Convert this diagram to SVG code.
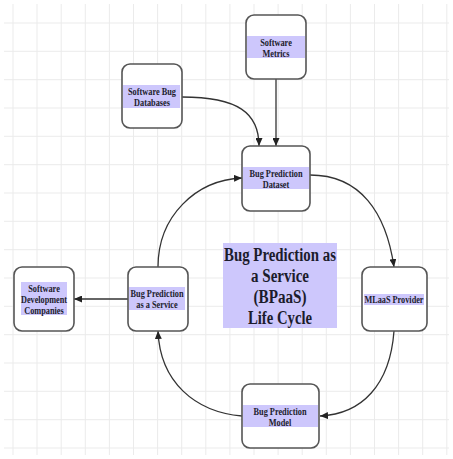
<svg xmlns="http://www.w3.org/2000/svg" width="453" height="459" viewBox="0 0 453 459">
<defs>
<style>
.grid line{stroke:#ebebeb;stroke-width:1}
.box{fill:#fff;stroke:#555;stroke-width:1.6}
.hl{fill:#cdc7fc}
.lbl{font-family:"Liberation Serif","Times New Roman",serif;font-weight:bold;font-size:10.5px;fill:#1c1c2c;text-anchor:middle}
.title{font-family:"Liberation Serif","Times New Roman",serif;font-weight:bold;font-size:18px;fill:#1c1c2c;text-anchor:middle}
.con{fill:none;stroke:#333;stroke-width:1.3}
</style>
<marker id="arr" viewBox="0 0 8 7" refX="8" refY="3.5" markerWidth="8" markerHeight="7" markerUnits="userSpaceOnUse" orient="auto">
<path d="M0,0 L8,3.5 L0,7 z" fill="#222"/>
</marker>
</defs>
<rect width="453" height="459" fill="#fff"/>
<g class="grid">
<line x1="13" y1="4" x2="13" y2="455"/><line x1="37" y1="4" x2="37" y2="455"/><line x1="61.2" y1="4" x2="61.2" y2="455"/><line x1="85.3" y1="4" x2="85.3" y2="455"/><line x1="109.4" y1="4" x2="109.4" y2="455"/><line x1="133.5" y1="4" x2="133.5" y2="455"/><line x1="157.6" y1="4" x2="157.6" y2="455"/><line x1="181.7" y1="4" x2="181.7" y2="455"/><line x1="205.8" y1="4" x2="205.8" y2="455"/><line x1="229.9" y1="4" x2="229.9" y2="455"/><line x1="254" y1="4" x2="254" y2="455"/><line x1="278.1" y1="4" x2="278.1" y2="455"/><line x1="302.2" y1="4" x2="302.2" y2="455"/><line x1="326.3" y1="4" x2="326.3" y2="455"/><line x1="350.4" y1="4" x2="350.4" y2="455"/><line x1="374.5" y1="4" x2="374.5" y2="455"/><line x1="398.6" y1="4" x2="398.6" y2="455"/><line x1="422.7" y1="4" x2="422.7" y2="455"/><line x1="446.8" y1="4" x2="446.8" y2="455"/>
<line x1="4" y1="23" x2="449" y2="23"/><line x1="4" y1="51.3" x2="449" y2="51.3"/><line x1="4" y1="79.7" x2="449" y2="79.7"/><line x1="4" y1="108" x2="449" y2="108"/><line x1="4" y1="136.3" x2="449" y2="136.3"/><line x1="4" y1="164.7" x2="449" y2="164.7"/><line x1="4" y1="193" x2="449" y2="193"/><line x1="4" y1="221.3" x2="449" y2="221.3"/><line x1="4" y1="249.7" x2="449" y2="249.7"/><line x1="4" y1="278" x2="449" y2="278"/><line x1="4" y1="306.3" x2="449" y2="306.3"/><line x1="4" y1="334.7" x2="449" y2="334.7"/><line x1="4" y1="363" x2="449" y2="363"/><line x1="4" y1="391.3" x2="449" y2="391.3"/><line x1="4" y1="419.7" x2="449" y2="419.7"/><line x1="4" y1="448" x2="449" y2="448"/>
</g>
<g id="connectors">
<path class="con" d="M276,79 L276,146" marker-end="url(#arr)"/>
<path class="con" d="M182,97 C238,97 259,113 259,146" marker-end="url(#arr)"/>
<path class="con" d="M310,175 C360,175 386,212 394,267" marker-end="url(#arr)"/>
<path class="con" d="M394,331 C390,385 362,414 320,416" marker-end="url(#arr)"/>
<path class="con" d="M242,416 C195,412 160,382 158,331" marker-end="url(#arr)"/>
<path class="con" d="M158,267 C158,216 196,180 242,178" marker-end="url(#arr)"/>
<path class="con" d="M128,299 L74,299" marker-end="url(#arr)"/>
</g>
<g id="title">
<rect class="hl" x="223" y="243" width="114" height="85"/>
<text class="title" x="280" y="261" textLength="112" lengthAdjust="spacingAndGlyphs">Bug Prediction as</text>
<text class="title" x="280" y="282" textLength="58" lengthAdjust="spacingAndGlyphs">a Service</text>
<text class="title" x="280" y="303" textLength="53" lengthAdjust="spacingAndGlyphs">(BPaaS)</text>
<text class="title" x="280" y="324" textLength="64" lengthAdjust="spacingAndGlyphs">Life Cycle</text>
</g>
<g id="software-metrics">
<rect class="box" x="246" y="15" width="60" height="64" rx="8"/>
<rect class="hl" x="247" y="36" width="58" height="22"/>
<text class="lbl" x="276" y="45.5" textLength="31.7" lengthAdjust="spacingAndGlyphs">Software</text>
<text class="lbl" x="276" y="56.5" textLength="27" lengthAdjust="spacingAndGlyphs">Metrics</text>
</g>
<g id="software-bug-databases">
<rect class="box" x="122" y="64" width="60" height="64" rx="8"/>
<rect class="hl" x="123" y="85" width="57" height="23"/>
<text class="lbl" x="152" y="95" textLength="48" lengthAdjust="spacingAndGlyphs">Software Bug</text>
<text class="lbl" x="152" y="106" textLength="35.8" lengthAdjust="spacingAndGlyphs">Databases</text>
</g>
<g id="bug-prediction-dataset">
<rect class="box" x="242" y="146" width="68" height="65" rx="8"/>
<rect class="hl" x="243" y="167" width="66" height="22"/>
<text class="lbl" x="276" y="176.5" textLength="53" lengthAdjust="spacingAndGlyphs">Bug Prediction</text>
<text class="lbl" x="276" y="187.5" textLength="26.6" lengthAdjust="spacingAndGlyphs">Dataset</text>
</g>
<g id="mlaas-provider">
<rect class="box" x="362" y="267" width="65" height="64" rx="8"/>
<rect class="hl" x="364" y="294" width="60" height="11"/>
<text class="lbl" x="394" y="303" textLength="59" lengthAdjust="spacingAndGlyphs">MLaaS Provider</text>
</g>
<g id="bug-prediction-model">
<rect class="box" x="242" y="384" width="77" height="64" rx="8"/>
<rect class="hl" x="243" y="405" width="75" height="22"/>
<text class="lbl" x="280" y="414.5" textLength="53" lengthAdjust="spacingAndGlyphs">Bug Prediction</text>
<text class="lbl" x="280" y="425.5" textLength="22.5" lengthAdjust="spacingAndGlyphs">Model</text>
</g>
<g id="bug-prediction-as-a-service">
<rect class="box" x="128" y="267" width="60" height="64" rx="8"/>
<rect class="hl" x="129" y="287" width="56" height="23"/>
<text class="lbl" x="157" y="297" textLength="53" lengthAdjust="spacingAndGlyphs">Bug Prediction</text>
<text class="lbl" x="157" y="308" textLength="41.3" lengthAdjust="spacingAndGlyphs">as a Service</text>
</g>
<g id="software-development-companies">
<rect class="box" x="14" y="267" width="60" height="64" rx="8"/>
<rect class="hl" x="21" y="282" width="46" height="33"/>
<text class="lbl" x="44" y="292" textLength="31.7" lengthAdjust="spacingAndGlyphs">Software</text>
<text class="lbl" x="44" y="303" textLength="46" lengthAdjust="spacingAndGlyphs">Development</text>
<text class="lbl" x="44" y="314" textLength="39.5" lengthAdjust="spacingAndGlyphs">Companies</text>
</g>
</svg>
